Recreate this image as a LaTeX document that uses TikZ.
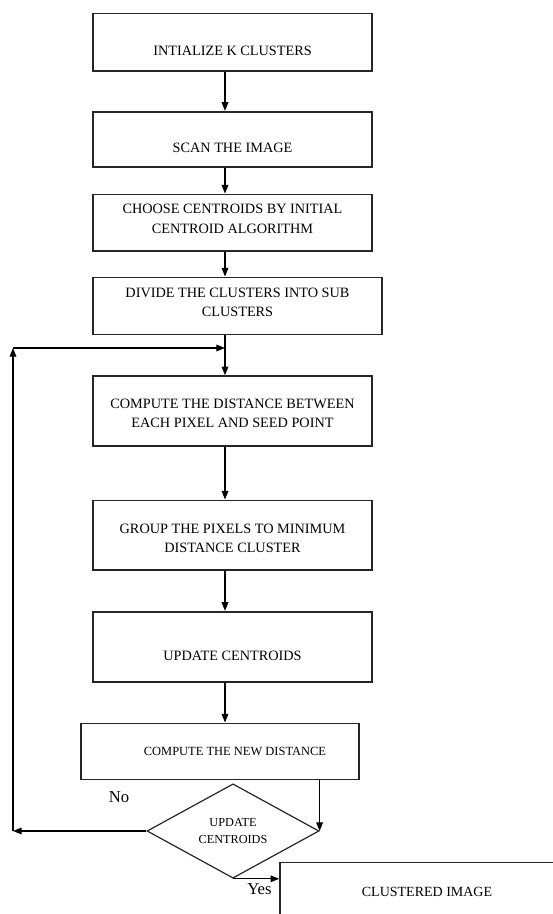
\documentclass[tikz,border=0pt]{standalone}
\usepackage{fontspec}
\setmainfont{Liberation Serif}
\usetikzlibrary{arrows.meta,shapes.geometric}
\newcommand\lowtext[2]{\raisebox{-#1}[\height][\depth]{\begin{tabular}{@{}c@{}}#2\end{tabular}}}
\tikzset{
  stepbox/.style={draw=black!85, line width=1.2pt, rectangle, inner sep=0pt, align=center,
    font=\fontsize{10.7pt}{14.6pt}\selectfont, minimum width={279*0.75pt}},
  decbox/.style={draw=black!85, line width=0.9pt, diamond, inner sep=0pt, align=center,
    minimum width={172*0.75pt}, minimum height={82.6*0.75pt},
    font=\fontsize{9.2pt}{13pt}\selectfont},
  arr/.style={draw=black, line width=0.9pt, -{Triangle[length=6.5pt,width=5pt]}},
  lbl/.style={inner sep=0pt, font=\fontsize{12.5pt}{14pt}\selectfont}
}
\begin{document}
\begin{tikzpicture}[x=0.75pt,y=-0.75pt]
\useasboundingbox (0,0) rectangle (553,914);
\clip (0,0) rectangle (553,914);
\fill[white] (0,0) rectangle (553,914);

\node[stepbox, minimum height={57.4*0.75pt}] (b1) at (232.5,42) {\lowtext{7.3pt}{INTIALIZE K CLUSTERS}};
\node[stepbox, minimum height={55*0.75pt}] (b2) at (232.5,139.2) {\lowtext{6.8pt}{SCAN THE IMAGE}};
\node[stepbox, minimum height={56.7*0.75pt}] (b3) at (232.5,222.7) {\lowtext{-2.2pt}{CHOOSE CENTROIDS BY INITIAL\\CENTROID ALGORITHM}};
\node[stepbox, minimum width={289*0.75pt}, minimum height={57*0.75pt}] (b4) at (237.5,305.8) {\lowtext{-2.2pt}{DIVIDE THE CLUSTERS INTO SUB\\CLUSTERS}};
\node[stepbox, minimum height={69.7*0.75pt}] (b5) at (232.5,410.9) {\lowtext{2.5pt}{COMPUTE THE DISTANCE BETWEEN\\EACH PIXEL AND SEED POINT}};
\node[stepbox, minimum height={69.7*0.75pt}] (b6) at (232.5,535.2) {\lowtext{2.8pt}{GROUP THE PIXELS TO MINIMUM\\DISTANCE CLUSTER}};
\node[stepbox, minimum height={70*0.75pt}] (b7) at (232.5,646.7) {\lowtext{7.5pt}{UPDATE CENTROIDS}};
\node[stepbox, minimum width={278*0.75pt}, minimum height={56*0.75pt}, font=\fontsize{9.35pt}{14pt}\selectfont] (b8) at (220,751.3) {\hspace*{22.5pt}COMPUTE THE NEW DISTANCE};
\node[decbox] (d) at (233,831) {UPDATE\\CENTROIDS};
\node[stepbox, minimum width={294*0.75pt}, minimum height={59*0.75pt}, font=\fontsize{10.5pt}{14pt}\selectfont] (c) at (427,892) {CLUSTERED IMAGE};

\node[lbl] (no) at (119,797) {No};
\node[lbl] (yes) at (259.5,889) {Yes};

\coordinate (ax) at (225,0);
\coordinate (lj) at (225,348);
\coordinate (ll) at (13,348);
\coordinate (lb) at (13,831);

\draw[arr] (b1.south -| ax) -- (b2.north -| ax);
\draw[arr] (b2.south -| ax) -- (b3.north -| ax);
\draw[arr] (b3.south -| ax) -- (b4.north -| ax);
\draw[arr] (b4.south -| ax) -- (b5.north -| ax);
\draw[arr] (b5.south -| ax) -- (b6.north -| ax);
\draw[arr] (b6.south -| ax) -- (b7.north -| ax);
\draw[arr] (b7.south -| ax) -- (b8.north -| ax);
\draw[arr] (b8.south -| d.east) -- (d.east);
\draw[arr] (d.west) -- (lb);
\draw[arr] (lb) -- (ll);
\draw[arr] (ll) -- (lj);
\draw[arr] (d.south) -- (d.south -| c.west);
\end{tikzpicture}
\end{document}
